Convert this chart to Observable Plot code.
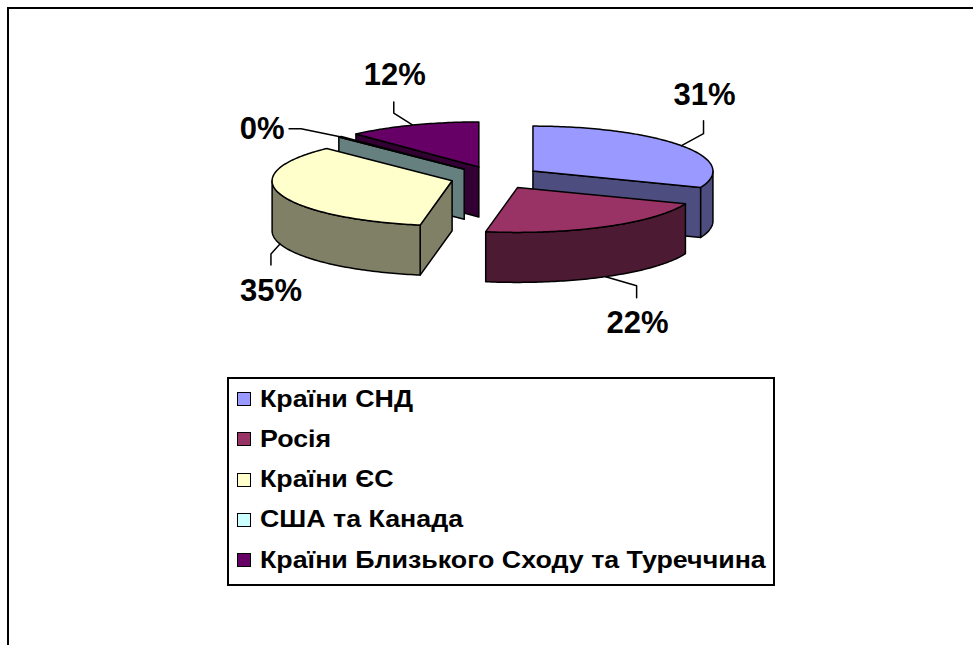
<!DOCTYPE html>
<html>
<head>
<meta charset="utf-8">
<script src="https://cdn.jsdelivr.net/npm/d3@7"></script>
<script src="https://cdn.jsdelivr.net/npm/@observablehq/plot@0.6"></script>
<style>
  html, body { margin: 0; padding: 0; background: #fff; }
  #wrap { position: relative; width: 973px; height: 645px; overflow: hidden; font-family: "Liberation Sans", Arial, sans-serif; }
  #wrap svg { position: absolute; left: 0; top: 0; }
  #frame { position: absolute; left: 7px; top: 7px; width: 1000px; height: 700px; border-left: 2px solid #000; border-top: 2px solid #000; }
  #legend { position: absolute; left: 227px; top: 377px; width: 544px; height: 205px; border: 2px solid #000; background: #fff; box-sizing: content-box; }
  .row { height: 40.25px; display: flex; align-items: center; padding-left: 8px; }
  .sw { width: 12px; height: 12px; border: 1.5px solid #000; margin-right: 9px; flex: none; }
  .lab { display: inline-block; font-size: 23px; font-weight: bold; line-height: 1; white-space: nowrap; color: #000; transform: scaleX(1.165); transform-origin: 0 50%; }
</style>
</head>
<body>
<div id="wrap"><div id="frame"></div></div>
<script>
// ---- data ----
const categories = ["Країни СНД", "Росія", "Країни ЄС", "США та Канада", "Країни Близького Сходу та Туреччина"];
const shares = [31, 22, 35, 0.3, 12]; // percent
const topColors = ["#9999FF", "#993366", "#FFFFCC", "#CCFFFF", "#660066"];
const sideColors = ["#4D4D80", "#4D1A33", "#808066", "#668080", "#330033"];

// ---- layout ----
const W = 973, H = 645;
const cx = 495, cy = 177, rx = 180, ry = 45, depth = 50, explode = 0.252;
// callout offsets from each slice's anchor point: elbow, end of leader, label centre
const callouts = [
  {elbow: [22, -12], end: [22, -25], label: [23, -51]},
  {elbow: [31, 9], end: [31, 21], label: [32, 46]},
  {elbow: [-9, 10], end: [-9, 21], label: [-9, 47]},
  {elbow: [-39, -8], end: [-51, -8], label: [-78, -8]},
  {elbow: [-19, -12], end: [-19, -23], label: [-18, -50]}
];

const arcs = d3.pie().sort(null).value(d => d)(shares);
const slices = arcs.map((a, i) => {
  const mid = (a.startAngle + a.endAngle) / 2;
  return {
    i, s: a.startAngle, e: a.endAngle, mid,
    ax: cx + explode * rx * Math.sin(mid),
    ay: cy - explode * ry * Math.cos(mid)
  };
});
const pt = (sl, t, dz = 0) => [sl.ax + rx * Math.sin(t), sl.ay - ry * Math.cos(t) + dz];
function arcPts(sl, a, b, dz) {
  const n = Math.max(2, Math.ceil(Math.abs(b - a) / (Math.PI / 180)));
  return d3.range(n + 1).map(k => pt(sl, a + (b - a) * k / n, dz));
}

const polys = [];
let pid = 0;
function addPoly(pts, fill) {
  const id = pid++;
  pts.forEach(([x, y]) => polys.push({id, x, y, fill}));
}

const order = slices.slice().sort((p, q) => (-Math.cos(p.mid)) - (-Math.cos(q.mid)));
for (const sl of order) {
  const side = sideColors[sl.i], top = topColors[sl.i];
  if (Math.sin(sl.s) < -1e-3)
    addPoly([[sl.ax, sl.ay], pt(sl, sl.s), pt(sl, sl.s, depth), [sl.ax, sl.ay + depth]], side);
  if (Math.sin(sl.e) > 1e-3)
    addPoly([[sl.ax, sl.ay], pt(sl, sl.e), pt(sl, sl.e, depth), [sl.ax, sl.ay + depth]], side);
  const a = Math.max(sl.s, Math.PI / 2), b = Math.min(sl.e, 3 * Math.PI / 2);
  if (b > a) addPoly([...arcPts(sl, a, b, 0), ...arcPts(sl, b, a, depth)], side);
  addPoly([[sl.ax, sl.ay], ...arcPts(sl, sl.s, sl.e, 0)], top);
}

const leaders = [], labels = [];
slices.forEach(sl => {
  const front = Math.cos(sl.mid) < 0;
  const [x0, y0] = pt(sl, sl.mid, front ? depth : 0);
  const c = callouts[sl.i];
  [[0, 0], c.elbow, c.end].forEach(([dx, dy]) => leaders.push({id: sl.i, x: x0 + dx, y: y0 + dy}));
  labels.push({x: x0 + c.label[0], y: y0 + c.label[1], text: Math.round(shares[sl.i]) + "%"});
});

const chart = Plot.plot({
  width: W, height: H, margin: 0,
  x: {domain: [0, W], range: [0, W], axis: null},
  y: {domain: [0, H], range: [0, H], axis: null},
  color: {type: "identity"},
  style: {background: "transparent", fontFamily: "'Liberation Sans', Arial, sans-serif"},
  marks: [
    Plot.line(polys, {x: "x", y: "y", z: "id", fill: "fill", stroke: "black", strokeWidth: 1.5, strokeLinejoin: "round", curve: "linear-closed"}),
    Plot.line(leaders, {x: "x", y: "y", z: "id", stroke: "black", strokeWidth: 1.5}),
    Plot.text(labels, {x: "x", y: "y", text: "text", fontSize: 31, fontWeight: "bold", fill: "black"})
  ]
});
const wrap = document.getElementById("wrap");
wrap.insertBefore(chart, wrap.firstChild);

// ---- legend ----
const legend = d3.select(wrap).append("div").attr("id", "legend");
const rows = legend.selectAll(".row").data(categories).join("div").attr("class", "row");
rows.append("div").attr("class", "sw").style("background", (d, i) => topColors[i]);
rows.append("span").attr("class", "lab").text(d => d);
</script>
</body>
</html>
